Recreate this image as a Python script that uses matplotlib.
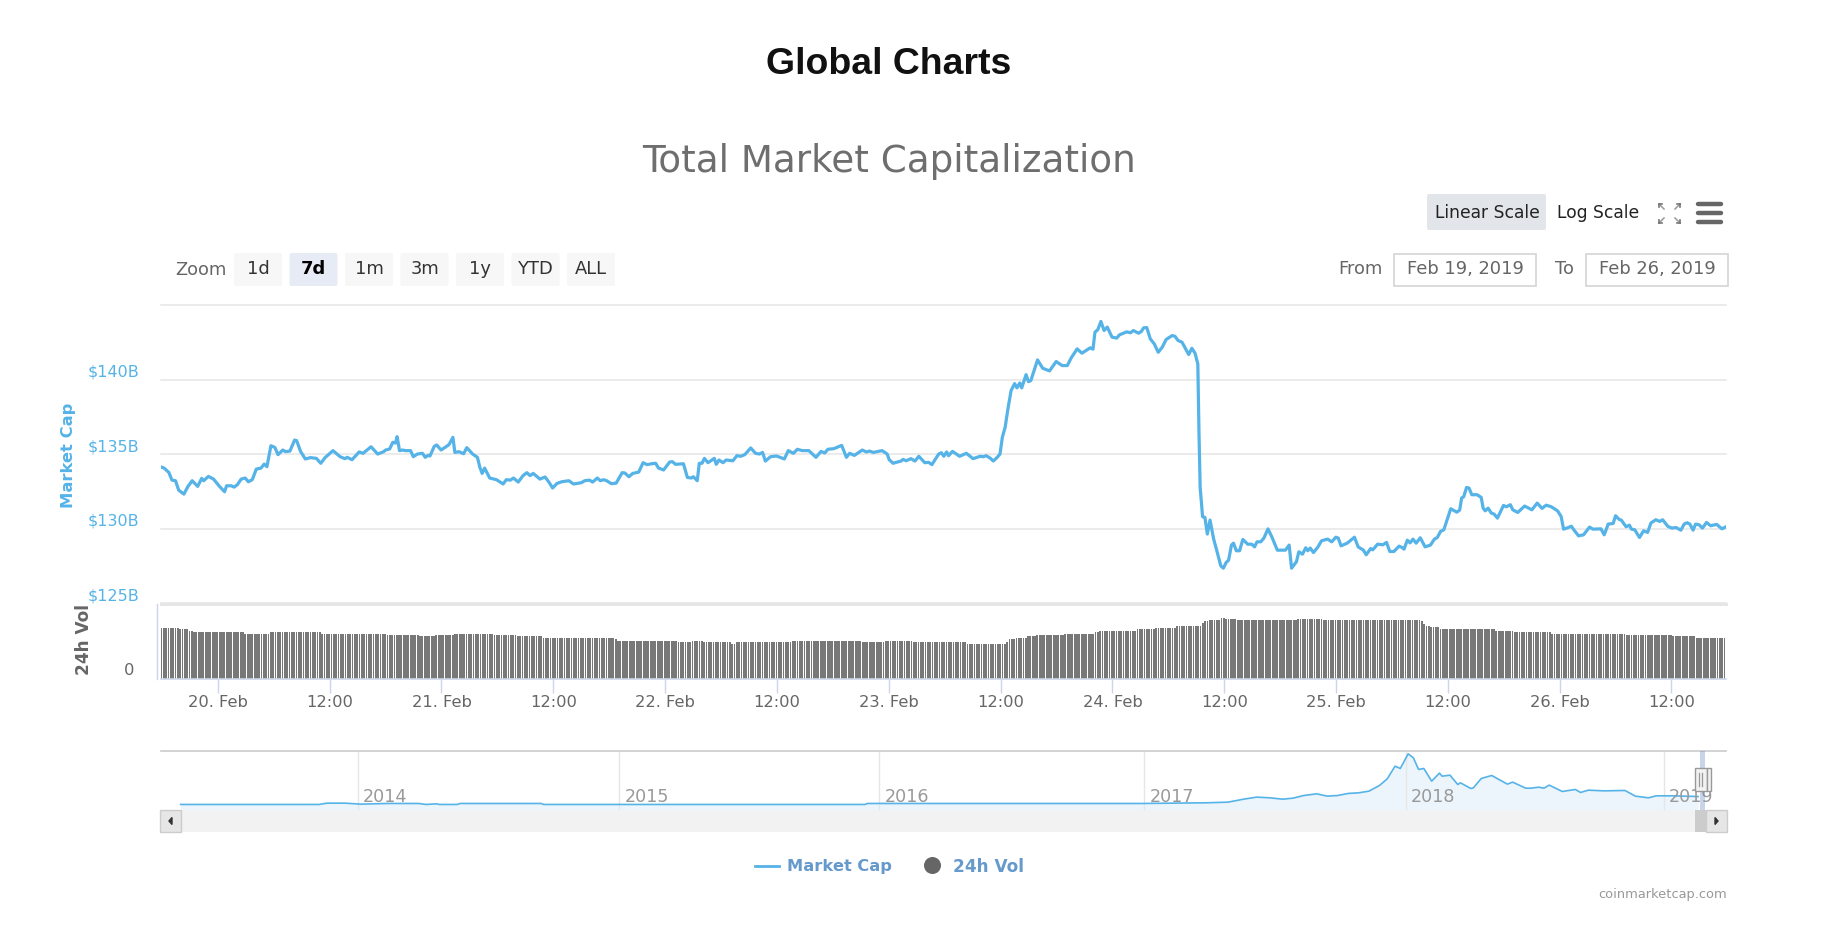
import numpy as np
import matplotlib
matplotlib.use('Agg')
import matplotlib.pyplot as plt
from matplotlib.patches import FancyBboxPatch, Rectangle
from matplotlib.transforms import ScaledTranslation

# market cap, hours since start of the 7d window, $B
cap_hours = [0.00,.38,.89,1.23,1.61,1.95,2.51,2.93,3.40,3.99,4.42,4.63,5.14,5.69,6.33,6.88,7.09,7.60,7.90,8.24,8.66,9.09,9.43,9.85,10.28,10.79,11.13,11.42,11.85,12.27,12.61,13.12,13.42,13.89,14.39,14.61,15.03,15.54,16.09,16.73,17.20,17.66,18.51,19.28,19.79,20.04,20.55,21.32,21.74,22.59,23.31,23.95,24.16,24.59,24.93,25.22,25.39,25.65,25.99,26.28,26.84,27.13,27.56,28.11,28.41,28.70,28.92,29.38,29.64,30.11,30.96,31.38,31.59,32.02,32.53,32.87,33.50,34.01,34.27,34.52,34.78,35.33,36.05,36.77,37.11,37.54,37.88,38.39,38.90,39.32,39.66,40.00,40.72,41.27,41.70,42.08,42.55,43.06,43.82,44.33,45.18,45.52,46.03,46.37,46.88,
             47.20,47.54,47.88,48.39,48.90,49.54,49.83,50.26,50.68,51.32,51.79,52.21,52.72,53.14,53.44,53.99,54.63,54.93,55.27,56.12,56.54,56.97,57.18,57.60,57.82,58.11,58.37,58.75,59.43,59.64,59.94,60.36,60.70,61.43,61.85,62.27,62.70,63.34,63.85,64.27,64.61,64.91,65.46,66.10,66.95,67.37,67.92,68.35,68.86,69.58,70.34,70.89,71.28,71.62,72.25,73.10,73.61,73.95,74.46,75.31,75.74,76.08,76.50,77.43,77.99,78.20,78.62,79.05,79.47,79.68,80.02,80.53,80.96,81.38,82.02,82.44,82.78,83.51,83.80,84.06,84.36,84.57,84.99,85.76,86.48,87.20,87.96,88.30,88.60,89.03,89.37,89.79,90.09,90.34,90.64,90.94,91.28,91.66,91.91,92.21,92.42,92.89,93.14,93.40,94.12,94.67,95.40,96.12,96.75,97.31,97.73,98.37,98.88,99.77,100.07,100.28,100.58,100.92,101.26,101.60,102.11,102.61,102.91,103.68,104.10,104.40,104.95,105.25,105.50,105.84,106.22,106.65,107.07,107.50,107.92,108.56,108.86,109.20,109.62,110.34,110.68,111.02,111.32,111.44,111.57,111.83,112.08,112.34,112.63,113.02,113.36,113.78,
             114.06,114.36,114.62,114.93,115.15,115.45,115.80,116.15,116.67,117.11,117.41,117.67,118.07,118.41,118.85,119.29,119.85,120.72,121.12,121.38,121.90,122.16,122.55,122.90,123.12,123.38,123.73,124.17,124.60,125.25,125.69,126.13,126.39,126.69,127.35,128.13,128.52,129.09,129.39,129.87,130.09,130.61,131.18,131.57,131.92,132.36,132.92,133.23,133.45,133.80,134.10,134.41,134.75,135.19,135.71,136.28,136.71,137.02,137.37,137.72,138.46,139.11,139.42,139.63,139.85,140.16,140.42,140.72,141.29,141.73,141.94,142.16,142.47,142.81,143.12,143.47,144.12,144.43,144.86,145.12,145.65,146.39,147.17,147.74,148.26,148.70,149.26,149.92,150.31,150.57,151.09,151.40,151.75,152.18,152.71,153.36,153.71,154.58,154.93,155.36,155.89,156.15,156.54,156.76,157.28,157.63,157.85,158.20,158.72,159.15,159.59,159.94,160.46,160.90,161.20,161.77,162.20,162.64,163.16,163.51,163.82,164.12,164.47,164.73,165.12,165.47,165.91,166.35,167.00,167.56,168.00]
cap_values = [134.18,134.09,133.80,133.28,133.24,132.61,132.34,132.84,133.24,132.86,133.40,133.24,133.53,133.35,132.86,132.50,132.90,132.90,132.81,132.97,133.35,133.42,133.17,133.31,134.02,134.09,134.36,134.18,135.59,135.48,134.99,135.30,135.19,135.23,135.97,135.93,135.21,134.70,134.79,134.74,134.41,134.79,135.26,134.85,134.72,134.81,134.65,135.17,135.08,135.52,135.03,135.19,135.30,135.37,135.82,135.77,136.20,135.26,135.30,135.26,135.26,134.85,135.03,135.08,134.81,134.94,134.90,135.55,135.64,135.30,135.66,136.15,135.14,135.19,135.05,135.46,135.03,134.81,134.14,133.73,134.09,133.42,133.31,133.02,133.31,133.28,133.42,133.15,133.58,133.78,133.58,133.73,133.35,133.49,133.13,132.75,133.06,133.17,133.24,133.02,133.11,133.24,133.28,133.15,133.42,
              133.24,133.31,133.24,133.04,133.08,133.78,133.76,133.51,133.73,133.82,134.45,134.32,134.38,134.41,134.09,133.96,134.49,134.52,134.34,134.38,133.46,133.42,133.51,133.24,134.41,134.41,134.74,134.45,134.74,134.34,134.63,134.45,134.63,134.58,134.92,134.88,134.99,135.44,135.08,135.03,135.14,134.56,134.85,134.90,134.70,135.26,135.08,135.35,135.26,135.26,134.81,135.21,135.10,135.35,135.39,135.61,134.81,135.08,134.94,135.30,135.17,135.23,135.14,135.26,135.03,134.65,134.41,134.49,134.56,134.67,134.58,134.72,134.56,134.88,134.45,134.47,134.32,135.03,135.12,134.88,135.17,134.92,135.21,134.88,135.08,134.72,134.88,134.85,134.92,134.76,134.56,134.81,135.03,136.15,136.82,138.06,139.29,139.76,139.47,139.80,139.47,140.36,139.89,139.96,141.35,140.79,140.61,141.24,140.97,140.97,141.48,142.09,141.80,142.16,142.07,143.21,143.37,143.93,143.32,143.55,142.88,142.81,143.03,143.23,143.17,143.32,143.14,143.25,143.50,143.52,142.76,142.42,141.86,142.20,142.72,142.98,142.94,142.65,142.54,141.71,142.13,141.80,141.08,136.60,132.79,130.82,130.78,129.66,130.60,129.32,128.54,127.53,
              127.37,127.75,127.91,128.92,129.05,128.54,128.54,129.30,128.98,128.98,128.80,129.14,129.14,129.39,130.01,129.43,128.58,128.58,128.92,127.37,127.80,128.47,128.31,128.74,128.54,128.72,128.42,128.76,129.21,129.32,129.14,129.45,129.39,128.87,129.05,129.45,128.80,128.58,128.27,128.69,128.60,128.98,128.94,129.10,128.49,128.49,128.85,128.76,128.65,129.25,129.07,129.32,129.05,129.41,128.80,128.92,129.32,129.43,129.84,129.95,131.36,131.13,131.27,132.08,132.16,132.79,132.75,132.30,132.30,132.12,131.40,131.22,131.40,131.07,131.00,130.73,131.58,131.49,131.63,131.29,131.11,131.54,131.29,131.74,131.38,131.60,131.49,131.22,130.84,129.99,130.10,130.19,129.88,129.54,129.61,130.13,129.99,130.01,129.61,130.33,130.37,130.89,130.64,130.60,130.15,130.26,129.99,129.95,129.43,129.88,129.77,130.40,130.62,130.51,130.62,130.17,130.06,130.10,129.92,130.33,130.42,130.33,129.92,130.33,130.28,130.06,130.44,130.22,130.31,130.01,130.15]

# 24h volume holds a level until each end hour, $B
vol_end_hours = [1.87,2.93,3.57,9.09,11.72,17.2,24.25,27.77,29.47,31.59,35.84,38.26,41.02,48.7,48.9,55.48,56.97,58.24,61.30,61.72,67.67,75.31,77.77,80.83,86.56,90.6,90.94,91.7,92.85,94.0,97.0,100.15,100.8,104.74,106.73,109.07,111.62,111.95,112.53,113.71,114.27,115.36,121.99,124.6,135.28,135.54,135.84,136.28,137.15,143.34,145.3,149.22,157.28,160.33,162.29,164.69,168.5]
vol_levels = [22.95,22.35,21.6,21.15,20.4,21.15,20.4,19.8,19.05,19.65,20.4,19.8,19.05,18.45,17.7,17.1,16.35,16.8,16.35,15.75,16.35,17.1,16.35,17.1,16.35,15.75,16.5,17.85,18.45,19.05,19.65,20.25,21.0,21.75,22.5,23.1,23.85,25.05,25.95,26.7,27.6,27.15,26.55,27.15,26.55,25.95,24.75,23.85,23.25,22.5,21.75,21.15,20.4,19.8,19.65,19.05,18.45]

tick_offset = 6.15
x_tick_labels = ['20. Feb', '12:00', '21. Feb', '12:00', '22. Feb', '12:00', '23. Feb', '12:00',
                 '24. Feb', '12:00', '25. Feb', '12:00', '26. Feb', '12:00']
y_ticks = [125, 130, 135, 140, 145]
y_tick_labels = ['$125B', '$130B', '$135B', '$140B', '']

# navigator, whole history
nav_years = [2013.32,2013.85,2013.88,2013.95,2014.01,2014.11,2014.23,2014.26,2014.30,2014.31,2014.38,2014.39,2014.70,2014.71,2015.94,2015.95,2016.02,2017.0,2017.25,2017.33,2017.39,2017.44,2017.49,2017.54,2017.58,2017.62,2017.67,2017.71,2017.75,2017.79,2017.83,2017.87,2017.91,2017.94,2017.97,2017.99,2018.02,2018.04,2018.06,2018.08,2018.11,2018.14,2018.15,2018.18,2018.21,2018.22,2018.26,2018.27,2018.30,2018.34,2018.40,2018.42,2018.47,2018.49,2018.52,2018.54,2018.56,2018.61,2018.66,2018.68,2018.71,2018.77,2018.85,2018.89,2018.94,2018.97,2019.03,2019.13]
nav_caps = [11,11,32,32,16,27,27,11,21,11,11,27,27,11,11,27,27,27,38,48,96,129,118,96,113,155,182,145,155,188,198,225,316,423,627,590,825,761,574,590,386,515,466,482,332,359,268,279,429,477,338,370,273,273,289,273,322,220,252,204,241,230,236,145,118,150,150,139]
nav_year_ticks = [2014, 2015, 2015.995, 2017.01, 2018.01, 2019]
nav_year_labels = ['2014', '2015', '2016', '2017', '2018', '2019']

zoom_buttons = ['1d', '7d', '1m', '3m', '1y', 'YTD', 'ALL']

W, H = 1836, 928
BLUE = '#55b3e8'
GRID = '#e6e6e6'
AXIS = '#ccd6eb'
TXT = '#666666'
FS = 11.7
FS_UI = 12.9


def px_axes(left, top, right, bottom, **kw):
    return fig.add_axes([left / W, 1 - bottom / H, (right - left) / W, (bottom - top) / H], **kw)


fig = plt.figure(figsize=(W / 100, H / 100), dpi=100, facecolor='white')

# page chrome, in pixels
ui = fig.add_axes([0, 0, 1, 1], zorder=0)
ui.set_xlim(0, W)
ui.set_ylim(H, 0)
ui.axis('off')

ui.text(889, 64, 'Global Charts', ha='center', va='center', fontsize=26.9, fontweight='bold',
        family='Liberation Sans', color='#111111')
ui.text(889, 162, 'Total Market Capitalization', ha='center', va='center', fontsize=26.8, color='#6e6e6e')


def button(x0, x1, y0, y1, color):
    ui.add_patch(FancyBboxPatch((x0 + 2, y0 + 2), x1 - x0 - 4, y1 - y0 - 4, boxstyle='round,pad=2',
                                fc=color, ec='none'))


# scale switch and menu
button(1427, 1546, 195, 231, '#e2e5ea')
ui.text(1487, 213, 'Linear Scale', ha='center', va='center', fontsize=12.3, color='#222222')
ui.text(1598, 213, 'Log Scale', ha='center', va='center', fontsize=12.3, color='#222222')
for cx, cy, dx, dy in [(1659, 205, 1, 1), (1680, 205, -1, 1), (1659, 224, 1, -1), (1680, 224, -1, -1)]:
    ui.plot([cx, cx + 5 * dx], [cy, cy + 5 * dy], color='#999999', lw=1.1)
    ui.plot([cx, cx + 3 * dx], [cy, cy], color='#777777', lw=1.2)
    ui.plot([cx, cx], [cy, cy + 3 * dy], color='#777777', lw=1.2)
for y in [205, 214, 223]:
    ui.plot([1698, 1721], [y, y], color='#666666', lw=3.2, solid_capstyle='round')

# range selector
ui.text(201, 270, 'Zoom', ha='center', va='center', fontsize=FS_UI, color=TXT)
for i, name in enumerate(zoom_buttons):
    x0 = 234 + i * 55.5
    active = name == '7d'
    button(x0, x0 + 48, 254, 287, '#e6ebf5' if active else '#f7f7f7')
    ui.text(x0 + 24, 269, name, ha='center', va='center', fontsize=FS_UI, color='black' if active else '#333333',
            fontweight='bold' if active else 'normal')

# date inputs
ui.text(1360, 269, 'From', ha='center', va='center', fontsize=FS_UI, color=TXT)
ui.text(1564, 269, 'To', ha='center', va='center', fontsize=FS_UI, color=TXT)
for x0, label in [(1394, 'Feb 19, 2019'), (1586, 'Feb 26, 2019')]:
    ui.add_patch(Rectangle((x0, 255), 142, 32, fc='white', ec='#d4d4d4', lw=1.2))
    ui.text(x0 + 71, 269, label, ha='center', va='center', fontsize=FS_UI, color=TXT)

# axis titles
ui.text(68, 455, 'Market Cap', rotation=90, ha='center', va='center', fontsize=11.8, fontweight='bold', color=BLUE)
ui.text(84, 640, '24h Vol', rotation=90, ha='center', va='center', fontsize=12.2, fontweight='bold', color=TXT)
ui.text(134.5, 671, '0', ha='right', va='center', fontsize=FS, color=TXT)
ui.plot([157, 157], [604.5, 679.5], color=AXIS, lw=1)

# market cap panel
ax = px_axes(160.5, 306.5, 1726, 604.5, zorder=2)
ax.patch.set_alpha(0)
ax.plot(cap_hours, cap_values, color=BLUE, lw=2.3, solid_joinstyle='round', zorder=3)
ax.set_xlim(0, 168)
ax.set_ylim(125, 145)
ax.set_yticks(y_ticks)
ax.set_yticklabels(y_tick_labels, color=BLUE, fontsize=11.5)
ax.set_xticks([])
ax.grid(axis='y', color=GRID, lw=1.1)
ax.tick_params(axis='y', length=0, pad=15.3)
for gridline in ax.get_ygridlines():
    gridline.set_clip_on(False)
for label in ax.get_yticklabels():
    label.set_transform(label.get_transform() + ScaledTranslation(0, 10 / 100, fig.dpi_scale_trans))
for side in ['top', 'right', 'left', 'bottom']:
    ax.spines[side].set_visible(False)
ax.spines['bottom'].set_visible(True)
ax.spines['bottom'].set_color(GRID)
ax.spines['bottom'].set_linewidth(2.2)
ax.spines['bottom'].set_zorder(1)

# volume panel
ax_vol = px_axes(160.5, 604.5, 1726, 679.5, zorder=2)
ax_vol.patch.set_alpha(0)
bar_hours = np.arange(0, 168, 0.25) + 0.1
bar_heights = np.array(vol_levels)[np.searchsorted(vol_end_hours, bar_hours)]
ax_vol.bar(bar_hours, bar_heights, width=0.19, color='#787878', linewidth=0)
ax_vol.set_xlim(0, 168)
ax_vol.set_ylim(0, 34)
ax_vol.set_yticks([])
ax_vol.set_xticks([tick_offset + 12 * i for i in range(len(x_tick_labels))])
ax_vol.set_xticklabels(x_tick_labels, fontsize=FS, color=TXT)
ax_vol.tick_params(axis='x', length=10, width=1, color=AXIS, pad=1.5)
for side in ['top', 'right', 'left']:
    ax_vol.spines[side].set_visible(False)
ax_vol.spines['bottom'].set_color(AXIS)
ax_vol.spines['bottom'].set_linewidth(1.2)

# navigator
ax_nav = px_axes(160.5, 751.5, 1726, 810.5, zorder=2)
ax_nav.patch.set_alpha(0)
ax_nav.fill_between(nav_years, nav_caps, -70, color='#edf5fc', lw=0)
ax_nav.plot(nav_years, nav_caps, color=BLUE, lw=1.2)
ax_nav.set_xlim(2013.243, 2019.237)
ax_nav.set_ylim(-70, 879)
ax_nav.set_yticks([])
ax_nav.set_xticks(nav_year_ticks)
ax_nav.set_xticklabels([])
ax_nav.tick_params(axis='x', length=0)
ax_nav.grid(axis='x', color=GRID, lw=1)
for year, year_label in zip(nav_year_ticks, nav_year_labels):
    ax_nav.annotate(year_label, xy=(year, 0), xycoords=ax_nav.get_xaxis_transform(), xytext=(5, 4),
                    textcoords='offset pixels', fontsize=12.6, color='#999999', ha='left', va='bottom')
for side in ['right', 'left', 'bottom']:
    ax_nav.spines[side].set_visible(False)
ax_nav.spines['top'].set_color('#cccccc')
ax_nav.spines['top'].set_linewidth(1.2)

# scrollbar and handle, over the navigator
top = fig.add_axes([0, 0, 1, 1], zorder=3)
top.set_xlim(0, W)
top.set_ylim(H, 0)
top.axis('off')
top.add_patch(Rectangle((160, 810.5), 1567, 22, fc='#f2f2f2', ec='none'))
top.add_patch(Rectangle((160, 810.5), 21, 22, fc='#e6e6e6', ec='#cccccc', lw=1))
top.add_patch(Rectangle((1695, 810.5), 11, 22, fc='#cccccc', ec='none'))
top.add_patch(Rectangle((1706, 810.5), 21, 22, fc='#e6e6e6', ec='#cccccc', lw=1))
top.fill([172, 172, 169], [818.5, 825.5, 822], color='#333333')
top.fill([1715, 1715, 1718], [818.5, 825.5, 822], color='#333333')
top.add_patch(Rectangle((1700, 751.5), 5, 59, fc='#6685c2', ec='none', alpha=0.35))
top.add_patch(Rectangle((1695, 768.5), 12, 23, fc='#f2f2f2', ec='#999999', lw=1))
top.add_patch(Rectangle((1707, 768.5), 4, 23, fc='#f2f2f2', ec='#999999', lw=1))
top.plot([1699, 1699], [773.5, 786.5], color='#999999', lw=0.9)
top.plot([1702, 1702], [773.5, 786.5], color='#999999', lw=0.9)

# legend
top.plot([755, 779], [867, 867], color=BLUE, lw=2)
top.text(787, 867, 'Market Cap', ha='left', va='center', fontsize=FS, fontweight='bold', color='#6699cc')
top.scatter([932], [866], s=150, color=TXT, linewidths=0)
top.text(953, 867, '24h Vol', ha='left', va='center', fontsize=12.2, fontweight='bold', color='#6699cc')
top.text(1727, 895, 'coinmarketcap.com', ha='right', va='center', fontsize=9.4, color='#999999')

fig.savefig('out.png', dpi=100)
